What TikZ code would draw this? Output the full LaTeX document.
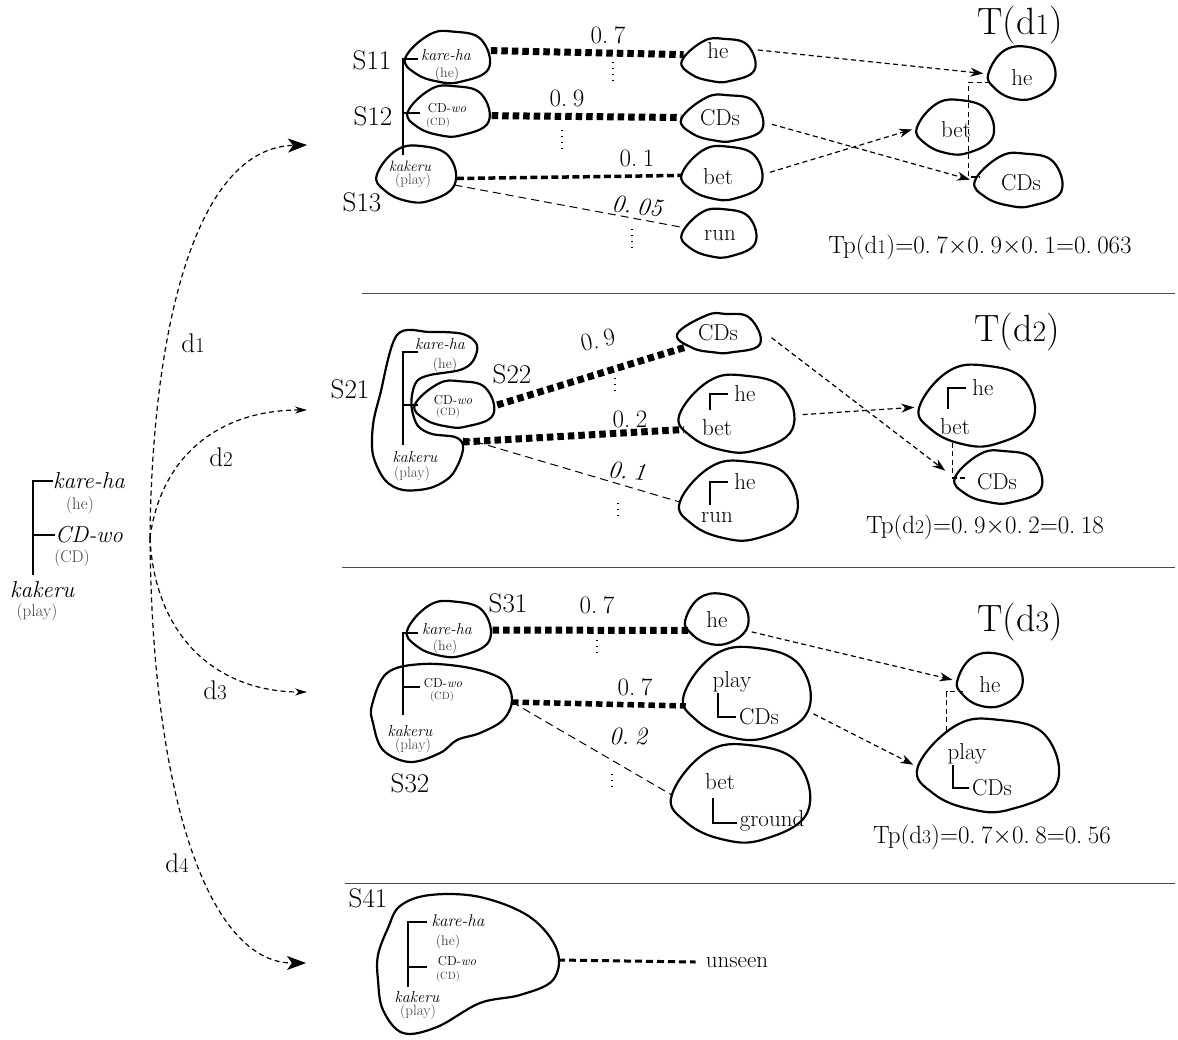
\documentclass[tikz,border=0pt]{standalone}
\usepackage{fontspec}
\usepackage{graphicx}
\usetikzlibrary{arrows.meta,calc,shapes.geometric,positioning}

\newcommand\fs[1]{\fontsize{#1}{#1}\selectfont}
\newcommand\dsub[1]{\scalebox{.78}{#1}}
\newcommand\pr[2]{#1.\kern.22em#2}
% egg shaped outline round a blob node
\newcommand\egg[1]{\draw[pen] plot[smooth cycle,tension=.7] coordinates
  {(#1.180) ($(#1.center)!1.03!(#1.130)$) ($(#1.center)!1.05!(#1.80)$)
   ($(#1.center)!1.04!(#1.30)$) (#1.-15) ($(#1.center)!.98!(#1.-65)$)
   ($(#1.center)!.97!(#1.-115)$) ($(#1.center)!.98!(#1.-155)$)};}

\tikzset{
  blob/.style={ellipse,inner sep=0pt},
  pen/.style={line width=2.2pt,line join=round},
  word/.style={font={\fs{23}},inner sep=0pt},
  slab/.style={font={\fs{27}},inner sep=0pt},
  prob/.style={font={\fs{25}},inner sep=0pt},
  head/.style={font={\fs{38}},inner sep=0pt},
  jp/.style={font={\fs{16}\itshape},inner sep=0pt},
  jpL/.style={font={\fs{23}\itshape},inner sep=0pt},
  jpsm/.style={font={\fs{13}},inner sep=0pt},
  gloss/.style={font={\fs{14}},text=black!75,inner sep=0pt},
  glossL/.style={font={\fs{17}},text=black!75,inner sep=0pt},
  glosssm/.style={font={\fs{10.5}},text=black!75,inner sep=0pt},
  dep/.style={line width=1.3pt},
  strong/.style={line width=7pt,dash pattern=on 6.5pt off 4pt},
  medium/.style={line width=3.5pt,dash pattern=on 7pt off 3.5pt},
  weak/.style={line width=1pt,dash pattern=on 8pt off 5pt},
  link/.style={line width=1.2pt,dash pattern=on 5pt off 3.5pt},
  flow/.style={link,shorten <=6pt,shorten >=5pt,-{Stealth[length=13pt,width=9pt]}},
  bigtip/.style={-{Stealth[length=19pt,width=14pt,inset=5pt]}},
  smalltip/.style={-{Stealth[length=12pt,width=7pt]}},
  ellip/.style={line width=1.4pt,dash pattern=on 1.4pt off 4.5pt},
  rule/.style={line width=1pt,black!70}
}

\begin{document}
\begin{tikzpicture}[x=1pt,y=-1pt]
\useasboundingbox (0,0) rectangle (1178,1039);

% sentence, left
\node[jpL,anchor=west] (lkare) at (53,481) {kare-ha};
\node[glossL] (lhe) at (80,505) {(he)};
\node[jpL,anchor=west] (lcd) at (55,535) {CD-wo};
\node[glossL] (lcdg) at (72,558) {(CD)};
\node[jpL,anchor=west] (lkak) at (10,590) {kakeru};
\node[glossL] (lplay) at (37,612) {(play)};
\draw[dep] (lkare.west) -- (33,481) -- (33,575);
\draw[dep] (33,535) -- (lcd.west);

% the four readings d1..d4
\coordinate (root) at (150,538);
\coordinate (r1) at (307,145);
\coordinate (r2) at (307,410);
\coordinate (r3) at (307,692);
\coordinate (r4) at (306,963);
\draw[link,bigtip] (root) .. controls (152,330) and (195,148) .. (r1);
\draw[link,smalltip] (root) .. controls (160,460) and (215,410) .. (r2);
\draw[link,smalltip] (root) .. controls (155,640) and (220,692) .. (r3);
\draw[link,bigtip] (root) .. controls (152,800) and (210,963) .. (r4);
\node[slab] (lab1) at (193,343) {d\dsub{1}};
\node[slab] (lab2) at (221,457) {d\dsub{2}};
\node[slab] (lab3) at (215,690) {d\dsub{3}};
\node[slab] (lab4) at (177,863) {d\dsub{4}};

\draw[rule] (362,293) -- (1175,293);
\draw[rule] (342,567) -- (1175,567);
\draw[rule] (345,883) -- (1175,883);

%%% d1
\node[blob,minimum width=87,minimum height=50] (kh1) at (449,58) {};
\node[blob,minimum width=84,minimum height=49] (cw1) at (450,112) {};
\node[blob,minimum width=80,minimum height=55] (kk1) at (417,175) {};
\egg{kh1} \egg{cw1} \egg{kk1}
\node[jp] (kh1t) at (446,55) {kare-ha};
\node[gloss] (kh1g) at (447,74) {(he)};
\node[jpsm] (cw1t) at (447,108) {CD-\textit{wo}};
\node[glosssm] (cw1g) at (438,123) {(CD)};
\node[jp,font={\fs{15}\itshape}] (kk1t) at (410,166) {kakeru};
\node[gloss,font={\fs{15}}] (kk1g) at (413,181) {(play)};
\draw[dep] (403,155) -- (403,59) -- (418,59);
\draw[dep] (403,113) -- (420,113);
\node[slab] (s11) at (372,60) {S11};
\node[slab] (s12) at (373,116) {S12};
\node[slab] (s13) at (362,202) {S13};

\node[blob,minimum width=76,minimum height=42] (he1) at (720,61) {};
\node[blob,minimum width=85,minimum height=45] (cd1) at (724,119) {};
\node[blob,minimum width=82,minimum height=52] (bt1) at (723,174) {};
\node[blob,minimum width=76,minimum height=47] (rn1) at (720,234) {};
\egg{he1} \egg{cd1} \egg{bt1} \egg{rn1}
\node[word] (he1t) at (718,51) {he};
\node[word] (cd1t) at (720,118) {CDs};
\node[word] (bt1t) at (718,177) {bet};
\node[word] (rn1t) at (720,236) {run};

\draw[strong] (kh1.10) -- (he1.170);
\draw[strong] (cw1.-5) -- (cd1.178);
\draw[medium] (kk1.-5) -- (bt1.182);
\draw[weak] (kk1.-15) -- (rn1.170);
\node[prob] (p11) at (608,35) {\pr{0}{7}};
\node[prob] (p12) at (567,98) {\pr{0}{9}};
\node[prob] (p13) at (637,158) {\pr{0}{1}};
\node[prob,font={\fs{25}\itshape},rotate=-6] (p14) at (637,206) {\pr{0}{05}};
\draw[ellip] (613,62) -- (613,80);
\draw[ellip] (562,130) -- (562,148);
\draw[ellip] (632,229) -- (632,247);

\node[head] (T1) at (1020,25) {T(d\dsub{1})};
\node[blob,minimum width=67,minimum height=52] (the1) at (1022,74) {};
\node[blob,minimum width=78,minimum height=53] (tbt1) at (956,128) {};
\node[blob,minimum width=90,minimum height=52] (tcd1) at (1020,181) {};
\egg{the1} \egg{tbt1} \egg{tcd1}
\node[word] (the1t) at (1022,78) {he};
\node[word] (tbt1t) at (956,130) {bet};
\node[word] (tcd1t) at (1021,183) {CDs};
\draw[link] (the1.195) -- ++(-22,0) |- ([xshift=4]tcd1.175);
\draw[flow] (he1.20) -- (the1.west);
\draw[flow] (cd1.-5) -- (tcd1.west);
\draw[flow] (bt1.east) -- (tbt1.west);
\node[prob] (tp1) at (980,247) {Tp(d\dsub{1})=\pr{0}{7}{$\times$}\pr{0}{9}{$\times$}\pr{0}{1}=\pr{0}{063}};

%%% d2
\draw[pen] plot[smooth cycle,tension=.55] coordinates {(397,335) (430,332) (463,334) (477,345)
  (473,361) (460,370) (430,375) (417,381) (412,395) (412,410) (418,426) (432,434) (455,437)
  (463,445) (460,460) (450,477) (430,488) (403,490) (385,480) (373,455) (373,425) (380,395)};
\node[blob,minimum width=82,minimum height=45] (cw2) at (456,405) {};
\egg{cw2}
\coordinate (kk2) at (463,442);
\node[jp] (kh2t) at (440,344) {kare-ha};
\node[gloss] (kh2g) at (445,365) {(he)};
\node[jpsm] (cw2t) at (453,400) {CD-\textit{wo}};
\node[glosssm] (cw2g) at (448,413) {(CD)};
\node[jp] (kk2t) at (415,457) {kakeru};
\node[gloss,font={\fs{15}}] (kk2g) at (412,474) {(play)};
\draw[dep] (418,352) -- (403,352) -- (403,445);
\draw[dep] (403,405) -- (418,405);
\node[slab] (s21) at (350,389) {S21};
\node[slab] (s22) at (512,374) {S22};

\node[blob,minimum width=89,minimum height=38] (cd2) at (722,334) {};
\node[blob,minimum width=117,minimum height=75] (hb2) at (738,415) {};
\node[blob,minimum width=120,minimum height=77] (hr2) at (740,502) {};
\egg{cd2} \egg{hb2} \egg{hr2}
\node[word] (cd2t) at (718,333) {CDs};
\node[word] (hb2he) at (745,394) {he};
\node[word] (hb2bt) at (717,428) {bet};
\node[word] (hr2he) at (745,482) {he};
\node[word] (hr2rn) at (717,518) {run};
\draw[dep] ([shift={(-7,-10)}]hb2bt.north) |- ([xshift=-6]hb2he.west);
\draw[dep] ([shift={(-7,-8)}]hr2rn.north) |- ([xshift=-6]hr2he.west);

\draw[strong] (cw2.east) -- (cd2.200);
\draw[strong] (kk2) -- (hb2.195);
\draw[weak] ([yshift=4]kk2) -- (hr2.west);
\node[prob,rotate=12] (p21) at (598,340) {\pr{0}{9}};
\node[prob] (p22) at (630,419) {\pr{0}{2}};
\node[prob,font={\fs{25}\itshape},rotate=-6] (p23) at (627,471) {\pr{0}{1}};
\draw[ellip] (615,378) -- (615,395);
\draw[ellip] (618,503) -- (618,520);

\node[head] (T2) at (1017,332) {T(d\dsub{2})};
\node[blob,minimum width=117,minimum height=79] (thb2) at (978,407) {};
\node[blob,minimum width=90,minimum height=51] (tcd2) at (1000,478) {};
\egg{thb2} \egg{tcd2}
\node[word] (thb2he) at (983,388) {he};
\node[word] (thb2bt) at (955,427) {bet};
\node[word] (tcd2t) at (997,482) {CDs};
\draw[dep] ([shift={(-7,-10)}]thb2bt.north) |- ([xshift=-6]thb2he.west);
\draw[link] (thb2.235) |- ([xshift=10]tcd2.west);
\draw[flow,shorten >=12pt] (cd2.east) -- (tcd2.west);
\draw[flow] (hb2.east) -- (thb2.west);
\node[prob] (tp2) at (985,527) {Tp(d\dsub{2})=\pr{0}{9}{$\times$}\pr{0}{2}=\pr{0}{18}};

%%% d3
\node[blob,minimum width=85,minimum height=54] (kh3) at (450,630) {};
\egg{kh3}
\draw[pen] plot[smooth cycle,tension=.6] coordinates {(372,705) (387,673) (423,664) (470,668)
  (503,680) (512,700) (503,720) (480,733) (457,740) (440,753) (410,762) (383,750) (373,723)};
\coordinate (s32) at (512,702);
\node[jp] (kh3t) at (447,629) {kare-ha};
\node[gloss] (kh3g) at (445,647) {(he)};
\node[jpsm] (cw3t) at (443,683) {CD-\textit{wo}};
\node[glosssm] (cw3g) at (442,697) {(CD)};
\node[jp] (kk3t) at (410,731) {kakeru};
\node[gloss,font={\fs{15}}] (kk3g) at (413,746) {(play)};
\draw[dep] (418,633) -- (403,633) -- (403,715);
\draw[dep] (403,687) -- (420,687);
\node[slab] (s31) at (508,603) {S31};
\node[slab] (s32l) at (410,783) {S32};

\node[blob,minimum width=63,minimum height=50] (he3) at (717,620) {};
\node[blob,minimum width=128,minimum height=90] (pc3) at (748,695) {};
\node[blob,minimum width=140,minimum height=95] (bg3) at (742,795) {};
\egg{he3} \egg{pc3} \egg{bg3}
\node[word] (he3t) at (717,620) {he};
\node[word] (pc3pl) at (732,682) {play};
\node[word] (pc3cd) at (759,717) {CDs};
\node[word] (bg3bt) at (720,782) {bet};
\node[word] (bg3gr) at (772,821) {ground};
\draw[dep] ([xshift=-14]pc3pl.south) |- ([xshift=-3]pc3cd.west);
\draw[dep] ([shift={(-7,8)}]bg3bt.south) |- ([xshift=-3,yshift=-2]bg3gr.west);

\draw[strong] (kh3.east) -- (he3.200);
\draw[strong,line width=5.5pt] (s32) -- (pc3.190);
\draw[weak] (s32) -- (bg3.west);
\node[prob] (p31) at (597,605) {\pr{0}{7}};
\node[prob] (p32) at (635,687) {\pr{0}{7}};
\node[prob,font={\fs{25}\itshape}] (p33) at (628,736) {\pr{0}{2}};
\draw[ellip] (597,640) -- (597,657);
\draw[ellip] (612,774) -- (612,791);

\node[head] (T3) at (1020,622) {T(d\dsub{3})};
\node[blob,minimum width=65,minimum height=53] (the3) at (990,681) {};
\node[blob,minimum width=144,minimum height=90] (tpc3) at (990,767) {};
\egg{the3} \egg{tpc3}
\node[word] (the3t) at (990,685) {he};
\node[word] (tpc3pl) at (967,754) {play};
\node[word] (tpc3cd) at (992,788) {CDs};
\draw[dep] ([xshift=-14]tpc3pl.south) |- ([xshift=-3]tpc3cd.west);
\draw[link] (tpc3.140) |- ([xshift=3]the3.200);
\draw[flow] (he3.-20) -- (the3.west);
\draw[flow] (pc3.-15) -- (tpc3.west);
\node[prob] (tp3) at (992,837) {Tp(d\dsub{3})=\pr{0}{7}{$\times$}\pr{0}{8}=\pr{0}{56}};

%%% d4
\draw[pen] plot[smooth cycle,tension=.6] coordinates {(378,955) (388,928) (400,906) (430,895)
  (480,897) (530,917) (557,950) (553,980) (520,995) (480,1003) (437,1027) (403,1033)
  (383,1010) (378,980)};
\coordinate (s41) at (558,960);
\node[jp,font={\fs{17}\itshape}] (kh4t) at (458,921) {kare-ha};
\node[gloss] (kh4g) at (448,942) {(he)};
\node[jpsm] (cw4t) at (457,961) {CD-\textit{wo}};
\node[glosssm] (cw4g) at (448,977) {(CD)};
\node[jp] (kk4t) at (417,997) {kakeru};
\node[gloss,font={\fs{15}}] (kk4g) at (418,1012) {(play)};
\draw[dep] (427,922) -- (408,922) -- (408,987);
\draw[dep] (408,967) -- (427,967);
\node[slab] (s41l) at (368,898) {S41};
\node[word] (unseen) at (737,962) {unseen};
\draw[medium,line width=3pt,dash pattern=on 7pt off 4pt] (s41) -- ([xshift=-10]unseen.west);

\end{tikzpicture}
\end{document}
